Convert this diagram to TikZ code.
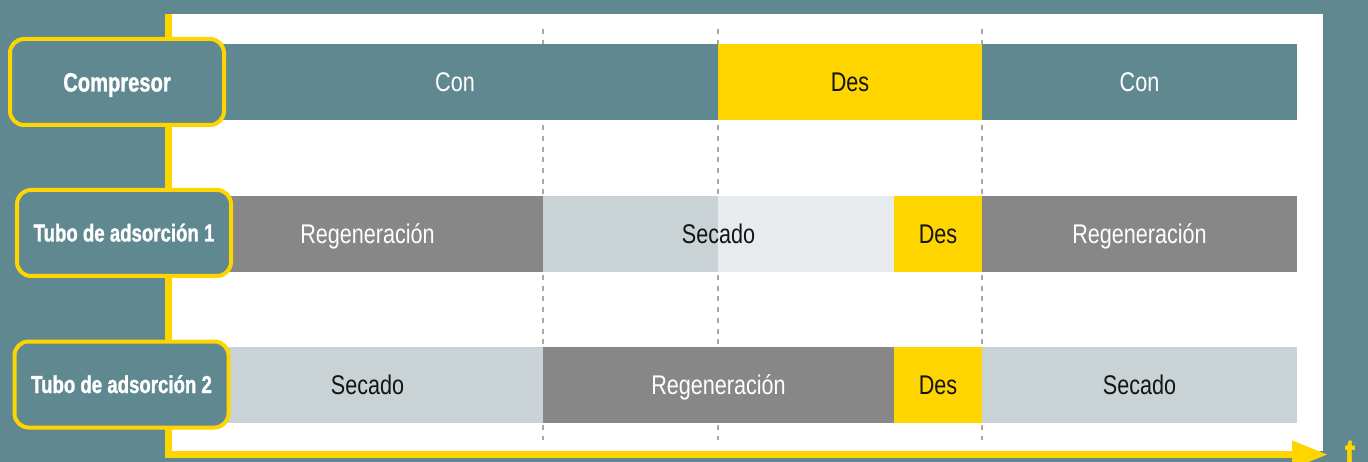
\documentclass[tikz,border=0pt]{standalone}
\usepackage{fontspec}
\setmainfont{Liberation Sans}
\newfontfamily\barfont[FakeStretch=0.8]{Liberation Sans}
\newfontfamily\labelfont[FakeStretch=0.76,BoldFeatures={FakeBold=1.2}]{Liberation Sans}
\usetikzlibrary{positioning,arrows.meta}
\definecolor{bgteal}{RGB}{96,136,145}
\definecolor{axyellow}{RGB}{255,213,0}
\definecolor{reggray}{RGB}{135,135,135}
\definecolor{secgray}{RGB}{201,211,214}
\definecolor{palegray}{RGB}{231,235,237}
\definecolor{guidegray}{RGB}{168,168,168}
\definecolor{inkblack}{RGB}{20,20,20}

\begin{document}
\begin{tikzpicture}[x=1pt,y=-1pt,
  seg/.style={inner sep=0pt,outer sep=0pt,minimum height=76pt,anchor=west,
    text height=19pt,text depth=0pt,font={\barfont\fontsize{27}{30}\selectfont}},
  con/.style={seg,fill=bgteal,text=white},
  des/.style={seg,fill=axyellow,text=inkblack,minimum width=88pt},
  regen/.style={seg,fill=reggray,text=white},
  secado/.style={seg,fill=secgray,text=inkblack},
  guide/.style={guidegray,line width=1.3pt,dash pattern=on 5pt off 5.7pt},
  axis/.style={axyellow,line width=7pt,-{Triangle[length=36pt,width=26pt]}},
  labelbox/.style={draw=axyellow,line width=4pt,fill=bgteal,rounded corners=14pt,
    minimum width=214pt,minimum height=86pt,inner sep=0pt,text=white,
    text height=17pt,text depth=0pt,font={\labelfont\bfseries\fontsize{24.5}{28}\selectfont}}]
\useasboundingbox (0,0) rectangle (1368,462);
\clip (0,0) rectangle (1368,462);
\fill[bgteal] (0,0) rectangle (1368,462);
\fill[white] (172,14) rectangle (1323,451);
\foreach \x in {543,718,982}
  \draw[guide] (\x,29) -- (\x,440);

\node[con,minimum width=526pt] (comp1) at (192,82.5) {Con};
\node[des,minimum width=264pt,right=0pt of comp1] (comp2) {Des};
\node[con,minimum width=315pt,right=0pt of comp2] (comp3) {Con};

\node[regen,minimum width=351pt] (tuboa1) at (192,234) {Regeneración};
\node[secado,minimum width=351pt,right=0pt of tuboa1,
  path picture={\fill[palegray] ([xshift=175pt]path picture bounding box.south west)
    rectangle (path picture bounding box.north east);}] (tuboa2) {Secado};
\node[des,right=0pt of tuboa2] (tuboa3) {Des};
\node[regen,minimum width=315pt,right=0pt of tuboa3] (tuboa4) {Regeneración};

\node[secado,minimum width=351pt] (tubob1) at (192,385) {Secado};
\node[regen,minimum width=351pt,right=0pt of tubob1] (tubob2) {Regeneración};
\node[des,right=0pt of tubob2] (tubob3) {Des};
\node[secado,minimum width=315pt,right=0pt of tubob3] (tubob4) {Secado};

\coordinate (axtop) at (168.5,14);
\coordinate (axend) at (1328,454.5);
\draw[axis] (axtop) |- (axend);
\node[text=axyellow,anchor=base,inner sep=0pt,
  font={\labelfont\bfseries\fontsize{40}{44}\selectfont}] (tlabel) at (1350,467) {t};

\node[labelbox,text height=19pt,font={\labelfont\bfseries\fontsize{26.5}{30}\selectfont}] (comp) at (117,82) {Compresor};
\node[labelbox] (tubo1) at (124,233) {Tubo de adsorción 1};
\node[labelbox] (tubo2) at (121.5,384.5) {Tubo de adsorción 2};
\end{tikzpicture}
\end{document}
